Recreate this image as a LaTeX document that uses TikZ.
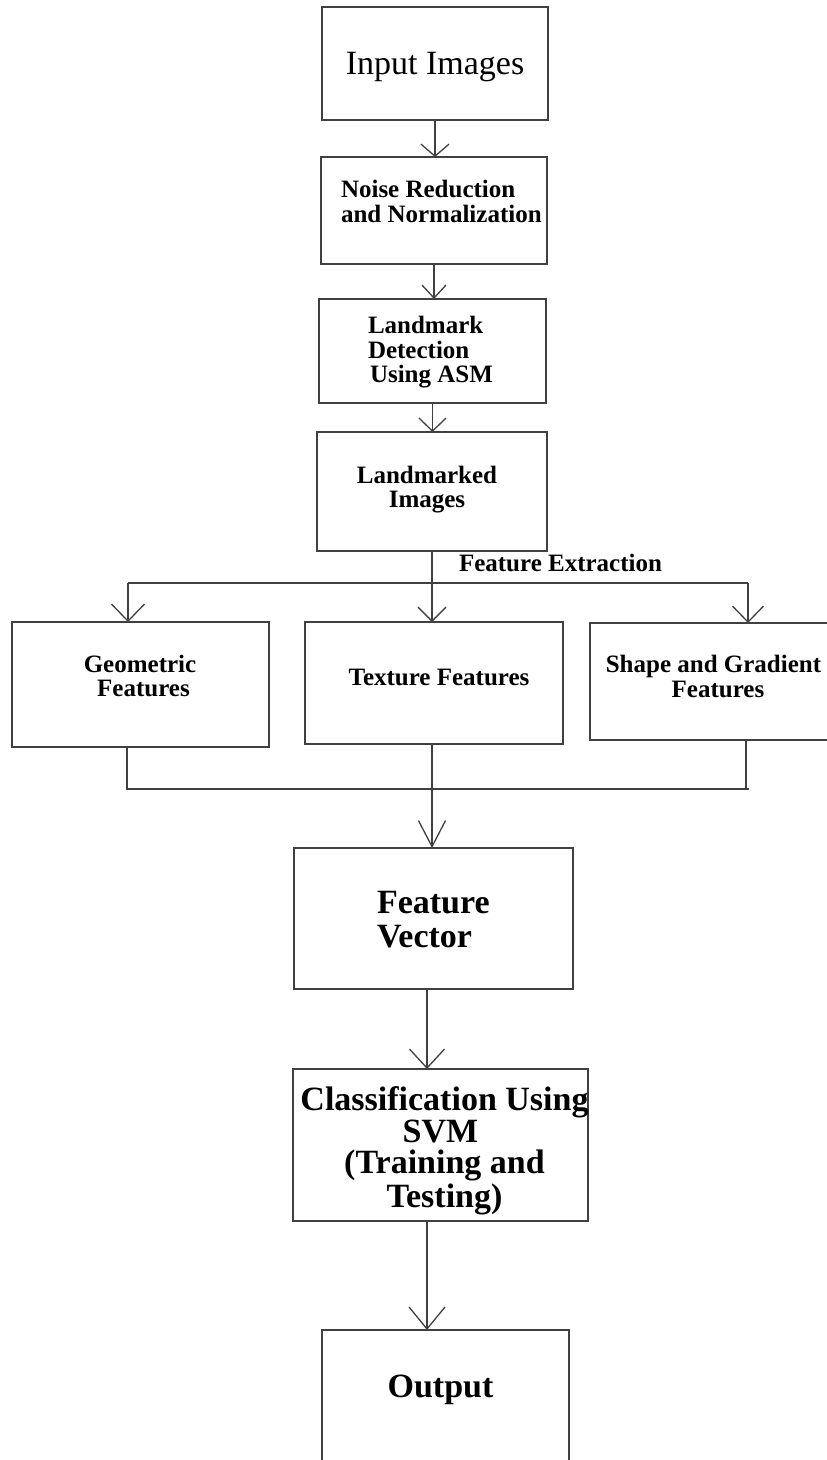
\documentclass[tikz,border=0pt]{standalone}
\usepackage{fontspec}
\setmainfont{Liberation Serif}
\usetikzlibrary{arrows.meta}
\begin{document}
\begin{tikzpicture}[x=1pt,y=-1pt,
  box/.style={draw=black!75,line width=1.3pt,inner sep=0pt,outer sep=0pt},
  ln/.style={draw=black!75,line width=1.3pt},
  sm/.style={font=\fontsize{25}{25}\selectfont\bfseries,inner sep=0pt,outer sep=0pt},
  bg/.style={font=\fontsize{34}{34}\selectfont\bfseries,inner sep=0pt,outer sep=0pt}]
\useasboundingbox (0,0) rectangle (827,1460);
\clip (0,0) rectangle (827,1460);
% boxes
\node[box,minimum width=226pt,minimum height=113pt] (in) at (435,63.5) {};
\node[box,minimum width=226pt,minimum height=107pt] (noise) at (434,210.5) {};
\node[box,minimum width=227pt,minimum height=104pt] (lmd) at (432.5,351) {};
\node[box,minimum width=230pt,minimum height=119pt] (lmk) at (432,491.5) {};
\node[box,minimum width=257pt,minimum height=125pt] (geo) at (140.5,684.5) {};
\node[box,minimum width=258pt,minimum height=122pt] (tex) at (434,683) {};
\node[box,minimum width=250pt,minimum height=117pt] (shp) at (715,681.5) {};
\node[box,minimum width=279pt,minimum height=141pt] (fv) at (433.5,918.5) {};
\node[box,minimum width=295pt,minimum height=152pt] (cls) at (440.5,1145) {};
\node[box,minimum width=247pt,minimum height=150pt] (out) at (445.5,1405) {};
% texts
\node[font=\fontsize{34}{34}\selectfont,inner sep=0pt,anchor=base] (tin) at (435,74) {Input Images};
\node[sm,anchor=base west] (tnoise1) at (341,197) {Noise Reduction};
\node[sm,anchor=base west] (tnoise2) at (341,222) {and Normalization};
\node[sm,anchor=base west] (tlmd1) at (368,333) {Landmark};
\node[sm,anchor=base west] (tlmd2) at (368,358) {Detection};
\node[sm,anchor=base west] (tlmd3) at (370,382) {Using ASM};
\node[sm,anchor=base] (tlmk1) at (427,483) {Landmarked};
\node[sm,anchor=base] (tlmk2) at (427,507) {Images};
\node[sm,anchor=base west] (tfe) at (459,571) {Feature Extraction};
\node[sm,anchor=base] (tgeo1) at (140,672) {Geometric};
\node[sm,anchor=base] (tgeo2) at (143.5,696) {Features};
\node[sm,anchor=base] (ttex) at (439,685) {Texture Features};
\node[sm,anchor=base] (tshp1) at (713.5,672) {Shape and Gradient};
\node[sm,anchor=base] (tshp2) at (718,697) {Features};
\node[bg,anchor=base west] (tfv1) at (377,913) {Feature};
\node[bg,anchor=base west] (tfv2) at (377,947) {Vector};
\node[bg,anchor=base] (tcls1) at (444.5,1110) {Classification Using};
\node[bg,anchor=base] (tcls2) at (440.5,1142) {SVM};
\node[bg,anchor=base] (tcls3) at (444.5,1173) {(Training and};
\node[bg,anchor=base] (tcls4) at (444.5,1207) {Testing)};
\node[bg,anchor=base] (tout) at (440.5,1397) {Output};
% helper coordinates
\coordinate (br) at (432,583);
\coordinate (gl) at (128,583);
\coordinate (sl) at (748,583);
\coordinate (ml) at (127,789);
\coordinate (mr) at (749,789);
\coordinate (sv) at (746,789);
\coordinate (sp) at (427,1000);
% connectors
\draw[ln,-{Straight Barb[length=12pt,width=28pt]}] (in.south) -- (in.south |- noise.north);
\draw[ln,-{Straight Barb[length=13pt,width=24pt]}] (noise.south) -- (noise.south |- lmd.north);
\draw[ln,-{Straight Barb[length=13pt,width=27pt]}] (lmd.south) -- (lmd.south |- lmk.north);
\draw[ln,-{Straight Barb[length=14pt,width=28pt]}] (lmk.south -| br) -- (tex.north -| br);
\draw[ln] (gl) -- (sl);
\draw[ln,-{Straight Barb[length=17pt,width=33pt]}] (gl) -- (gl |- geo.north);
\draw[ln,-{Straight Barb[length=16pt,width=31pt]}] (sl) -- (sl |- shp.north);
\draw[ln] (geo.south -| ml) -- (ml) -- (mr);
\draw[ln] (shp.south -| sv) -- (sv);
\draw[ln,-{Straight Barb[length=26pt,width=27pt]}] (tex.south -| br) -- (fv.north -| br);
\draw[ln,-{Straight Barb[length=19pt,width=35pt]}] (fv.south -| sp) -- (cls.north -| sp);
\draw[ln,-{Straight Barb[length=22pt,width=36pt]}] (cls.south -| sp) -- (out.north -| sp);
\end{tikzpicture}
\end{document}
